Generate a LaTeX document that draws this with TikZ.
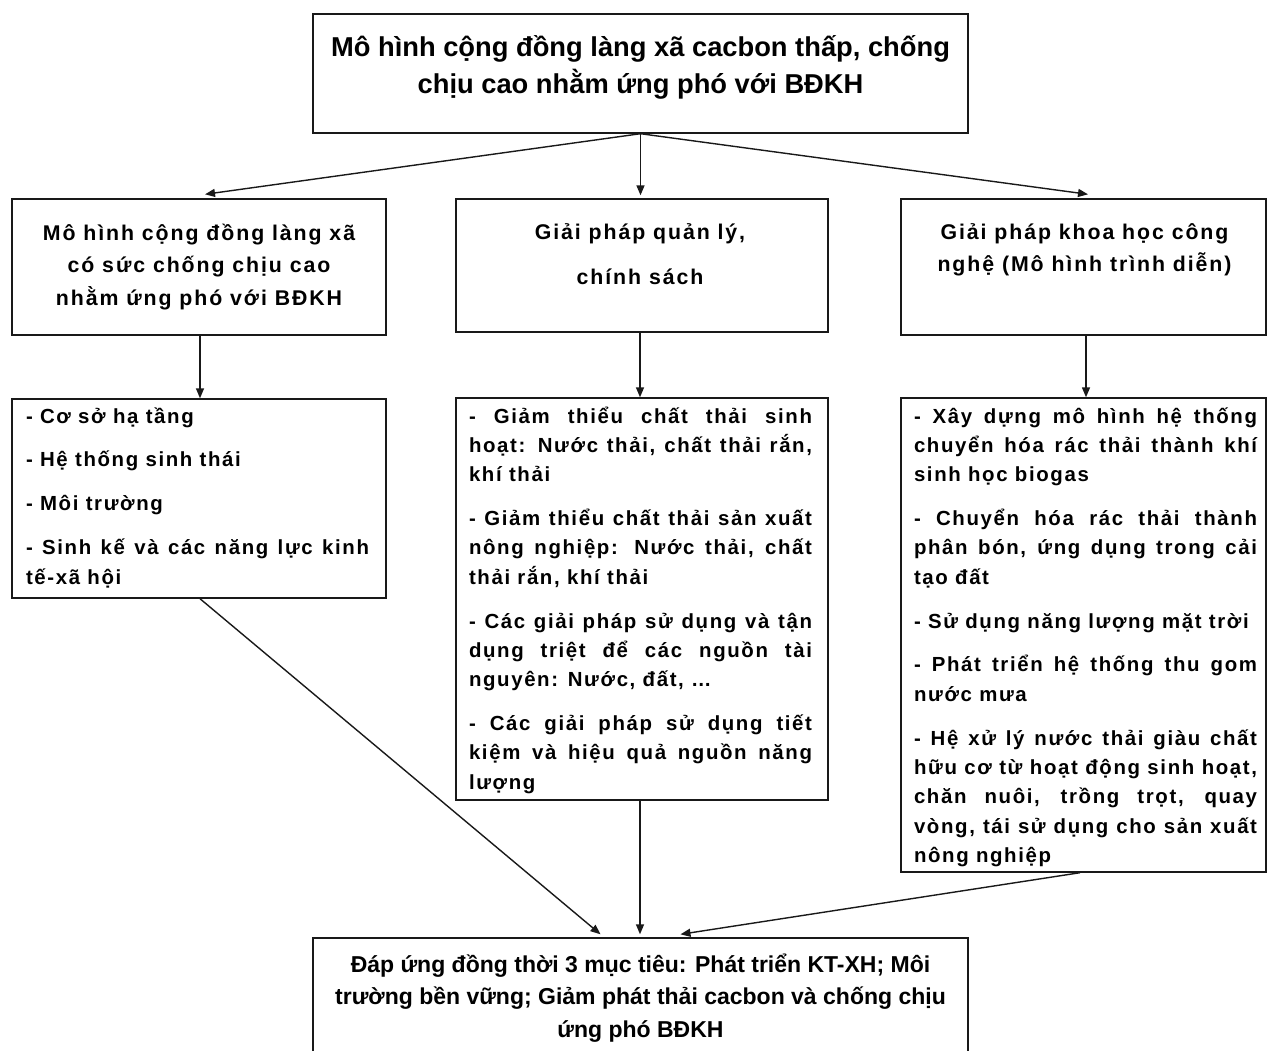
\documentclass[tikz,border=0pt]{standalone}
\usepackage{fontspec}
\setmainfont{Liberation Sans}
\newfontfamily\spaced[LetterSpace=8]{Liberation Sans}
\newfontfamily\spacedhead[LetterSpace=9]{Liberation Sans}
\usetikzlibrary{arrows.meta}

% type sizes
\newcommand{\titlefont}{\fontsize{27.3}{37}\selectfont\bfseries}
\newcommand{\goalfont}{\fontsize{23}{32.5}\selectfont\bfseries}
\newcommand{\headfont}{\spacedhead\fontsize{21.3}{32.5}\selectfont\bfseries}
\newcommand{\listfont}{\spaced\fontsize{20.4}{29.3}\selectfont\bfseries}

% justified list block, first baseline at the node's base anchor
\newcommand{\listblock}[1]{\parbox[t]{343pt}{\listfont
  \hyphenpenalty=10000 \exhyphenpenalty=10000 \tolerance=10000
  \hfuzz=4pt
  \setlength{\parskip}{14.6pt}\setlength{\parindent}{0pt}#1}}
% centred block
\newcommand{\centblock}[3]{\parbox[t]{#1}{\centering #2#3}}

\begin{document}
\begin{tikzpicture}[x=1pt,y=-1pt,
  box/.style={draw=black!90, line width=1.4pt, inner sep=0pt, fill=none},
  txt/.style={anchor=base, inner sep=0pt},
  arr/.style={draw=black!90, line width=1.4pt,
    -{Triangle[length=10pt,width=8pt]}}]
\useasboundingbox (0,0) rectangle (1268,1050);

% boxes
\node[box, minimum width=655pt, minimum height=119pt] (top) at (640.5,73.5) {};
\node[box, minimum width=374pt, minimum height=136pt] (L1) at (199,267) {};
\node[box, minimum width=372pt, minimum height=133pt] (C1) at (642,265.5) {};
\node[box, minimum width=365pt, minimum height=136pt] (R1) at (1083.5,267) {};
\node[box, minimum width=374pt, minimum height=199pt] (L2) at (199,498.5) {};
\node[box, minimum width=372pt, minimum height=402pt] (C2) at (642,599) {};
\node[box, minimum width=365pt, minimum height=474pt] (R2) at (1083.5,635) {};
\node[box, minimum width=655pt, minimum height=120pt] (B) at (640.5,998) {};

% texts
\node[txt] (topT) at (640.5,56) {\centblock{650pt}{\titlefont}{Mô hình cộng đồng làng xã cacbon thấp, chống\\ chịu cao nhằm ứng phó với BĐKH}};
\node[txt] (L1T) at (199,240) {\centblock{370pt}{\headfont}{Mô hình cộng đồng làng xã\\ có sức chống chịu cao\\ nhằm ứng phó với BĐKH}};
\node[txt] (C1T) at (640,239) {\centblock{370pt}{\headfont}{Giải pháp quản lý,\\[13pt] chính sách}};
\node[txt] (R1T) at (1084.5,239) {\centblock{360pt}{\headfont}{Giải pháp khoa học công\\ nghệ (Mô hình trình diễn)}};

\node[txt] (L2T) at (197.5,423) {\listblock{%
- Cơ sở hạ tầng\par
- Hệ thống sinh thái\par
- Môi trường\par
- Sinh kế và các năng lực kinh\linebreak tế-xã hội}};

\node[txt] (C2T) at (640.5,423) {\listblock{%
- Giảm thiểu chất thải sinh\linebreak hoạt: Nước thải, chất thải rắn,\linebreak khí thải\par
- Giảm thiểu chất thải sản xuất\linebreak nông nghiệp: Nước thải, chất\linebreak thải rắn, khí thải\par
- Các giải pháp sử dụng và tận\linebreak dụng triệt để các nguồn tài\linebreak nguyên: Nước, đất, …\par
- Các giải pháp sử dụng tiết\linebreak kiệm và hiệu quả nguồn năng\linebreak lượng}};

\node[txt] (R2T) at (1085.5,423) {\listblock{%
- Xây dựng mô hình hệ thống\linebreak chuyển hóa rác thải thành khí\linebreak sinh học biogas\par
- Chuyển hóa rác thải thành\linebreak phân bón, ứng dụng trong cải\linebreak tạo đất\par
- Sử dụng năng lượng mặt trời\par
- Phát triển hệ thống thu gom\linebreak nước mưa\par
- Hệ xử lý nước thải giàu chất\linebreak hữu cơ từ hoạt động sinh hoạt,\linebreak chăn nuôi, trồng trọt, quay\linebreak vòng, tái sử dụng cho sản xuất\linebreak nông nghiệp}};

\node[txt] (BT) at (640.5,972) {\centblock{650pt}{\goalfont}{Đáp ứng đồng thời 3 mục tiêu: Phát triển KT-XH; Môi\\ trường bền vững; Giảm phát thải cacbon và chống chịu\\ ứng phó BĐKH}};

% connectors
\draw[arr] (top.south) -- ([xshift=6pt,yshift=4pt]L1.north);
\draw[arr] (top.south) -- ([xshift=-1.5pt,yshift=3pt]C1.north);
\draw[arr] (top.south) -- ([xshift=4.5pt,yshift=4pt]R1.north);

\draw[arr] ([xshift=1pt]L1.south) -- ([xshift=1pt]L2.north);
\draw[arr] ([xshift=-2pt]C1.south) -- ([xshift=-2pt]C2.north);
\draw[arr] ([xshift=2.5pt]R1.south) -- ([xshift=2.5pt]R2.north);

\draw[arr] ([xshift=1pt]L2.south) -- ([xshift=-40pt,yshift=3pt]B.north);
\draw[arr] ([xshift=-2pt]C2.south) -- ([xshift=-0.5pt,yshift=3pt]B.north);
\draw[arr] ([xshift=-3.5pt]R2.south) -- ([xshift=40pt,yshift=3pt]B.north);
\end{tikzpicture}
\end{document}
